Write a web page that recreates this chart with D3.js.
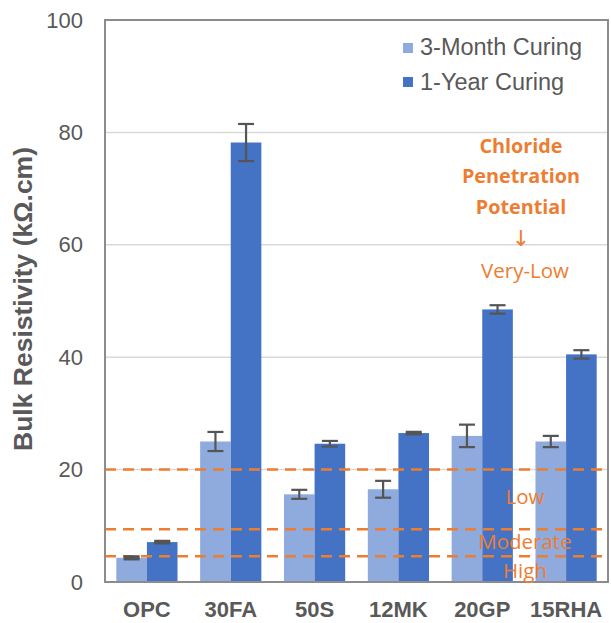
<!DOCTYPE html>
<html><head><meta charset="utf-8">
<script src="https://cdn.jsdelivr.net/npm/d3@7"></script>
<style>body{margin:0;background:#fff}svg{display:block}</style>
</head><body>
<script>
const categories = ["OPC","30FA","50S","12MK","20GP","15RHA"];
const seriesNames = ["3-Month Curing","1-Year Curing"];
const month3 = [4.3, 25.0, 15.6, 16.5, 26.0, 25.0];
const month3Err = [0.2, 1.7, 0.8, 1.5, 2.0, 1.0];
const year1 = [7.1, 78.2, 24.6, 26.5, 48.5, 40.5];
const year1Err = [0.15, 3.3, 0.5, 0.15, 0.75, 0.75];
const yTicks = [0,20,40,60,80,100];
const thresholds = [4.6, 9.4, 20];
const zoneLabels = [{t:"Low",v:13.8},{t:"Moderate",v:5.8},{t:"High",v:0.8}];

const W=611,H=623;
const L=105,R=608,T=20,B=582;
const svg=d3.select("body").append("svg").attr("width",W).attr("height",H);
const x=d3.scaleBand().domain(categories).range([L,R]).paddingInner(0.27).paddingOuter(0.135);
const xs=d3.scaleBand().domain(seriesNames).range([0,x.bandwidth()]);
const y=d3.scaleLinear().domain([0,100]).range([B,T]);
const colors=["#8FAADC","#4472C4"];
const grey="#595959";
const ff="Liberation Sans, Arial, sans-serif";

// gridlines
svg.append("g").selectAll("line").data(yTicks.filter(d=>d>0)).join("line")
 .attr("x1",L).attr("x2",R).attr("y1",d=>y(d)).attr("y2",d=>y(d))
 .attr("stroke","#D9D9D9").attr("stroke-width",1.5);

// bars
const data=categories.map((c,i)=>[
 {c,s:seriesNames[0],v:month3[i],e:month3Err[i],k:0},
 {c,s:seriesNames[1],v:year1[i],e:year1Err[i],k:1}]).flat();
svg.append("g").selectAll("rect").data(data).join("rect")
 .attr("x",d=>x(d.c)+xs(d.s)).attr("width",xs.bandwidth())
 .attr("y",d=>y(d.v)).attr("height",d=>y(0)-y(d.v))
 .attr("fill",d=>colors[d.k]);

// thresholds
svg.append("g").selectAll("line").data(thresholds).join("line")
 .attr("x1",L).attr("x2",R).attr("y1",d=>y(d)).attr("y2",d=>y(d))
 .attr("stroke","#ED7D31").attr("stroke-width",2.5).attr("stroke-dasharray","11,7");

// error bars
const eg=svg.append("g").attr("stroke","#555").attr("stroke-width",2.2);
data.forEach(d=>{
 const cx=x(d.c)+xs(d.s)+xs.bandwidth()/2;
 const y1=y(d.v+d.e),y2=y(d.v-d.e);
 eg.append("line").attr("x1",cx).attr("x2",cx).attr("y1",y1).attr("y2",y2);
 eg.append("line").attr("x1",cx-8).attr("x2",cx+8).attr("y1",y1).attr("y2",y1).attr("stroke-width",d.e<0.3?3:2.2);
 eg.append("line").attr("x1",cx-8).attr("x2",cx+8).attr("y1",y2).attr("y2",y2).attr("stroke-width",d.e<0.3?3:2.2);
});

// frame
svg.append("rect").attr("x",L).attr("y",T).attr("width",R-L).attr("height",B-T)
 .attr("fill","none").attr("stroke","#8C8C8C").attr("stroke-width",2);

// y axis labels
const yAxis=d3.axisLeft(y).tickValues(yTicks).tickSize(0).tickPadding(22);
const ya=svg.append("g").attr("transform",`translate(${L},0)`).call(yAxis);
ya.select(".domain").remove();
ya.selectAll("text").attr("font-family",ff).attr("font-size",22).attr("fill",grey);

// x axis labels
const xAxis=d3.axisBottom(x).tickSize(0).tickPadding(0);
const xa=svg.append("g").attr("transform",`translate(0,${B})`).call(xAxis);
xa.select(".domain").remove();
xa.selectAll("text").attr("dy",null).attr("y",35).attr("font-family",ff).attr("font-size",22).attr("font-weight","bold").attr("fill",grey);

// y title
svg.append("text").attr("transform",`translate(32,${(145+453)/2}) rotate(-90)`)
 .attr("text-anchor","middle").attr("font-family",ff)
 .attr("font-size",26.5).attr("font-weight","bold").attr("fill",grey)
 .text("Bulk Resistivity (kΩ.cm)");

// legend
seriesNames.forEach((s,i)=>{
 const ly=43+i*34;
 svg.append("rect").attr("x",403).attr("y",ly).attr("width",10).attr("height",10).attr("fill",colors[i]);
 svg.append("text").attr("x",420).attr("y",55+i*35).attr("font-family",ff)
  .attr("font-size",23.5).attr("fill",grey).text(s);
});

// annotations
const orange="#ED7D31";
const af="Open Sans, Lato, sans-serif";
[["Chloride",153],["Penetration",183],["Potential",214]].forEach(([t,yy])=>{
 svg.append("text").attr("x",521).attr("y",yy).attr("text-anchor","middle").attr("font-family",af)
  .attr("font-size",19.8).attr("font-weight","bold").attr("fill",orange).text(t);
});
svg.append("text").attr("x",521).attr("y",246).attr("text-anchor","middle").attr("font-family","DejaVu Sans, sans-serif")
 .attr("font-size",22).attr("fill",orange).text("↓");
svg.append("text").attr("x",525).attr("y",278).attr("text-anchor","middle").attr("font-family",af)
 .attr("font-size",20.5).attr("fill",orange).text("Very-Low");
zoneLabels.forEach(z=>{
 svg.append("text").attr("x",525).attr("y",y(z.v)).attr("text-anchor","middle").attr("font-family",af)
  .attr("font-size",20.5).attr("fill",orange).text(z.t);
});
</script>
</body></html>
